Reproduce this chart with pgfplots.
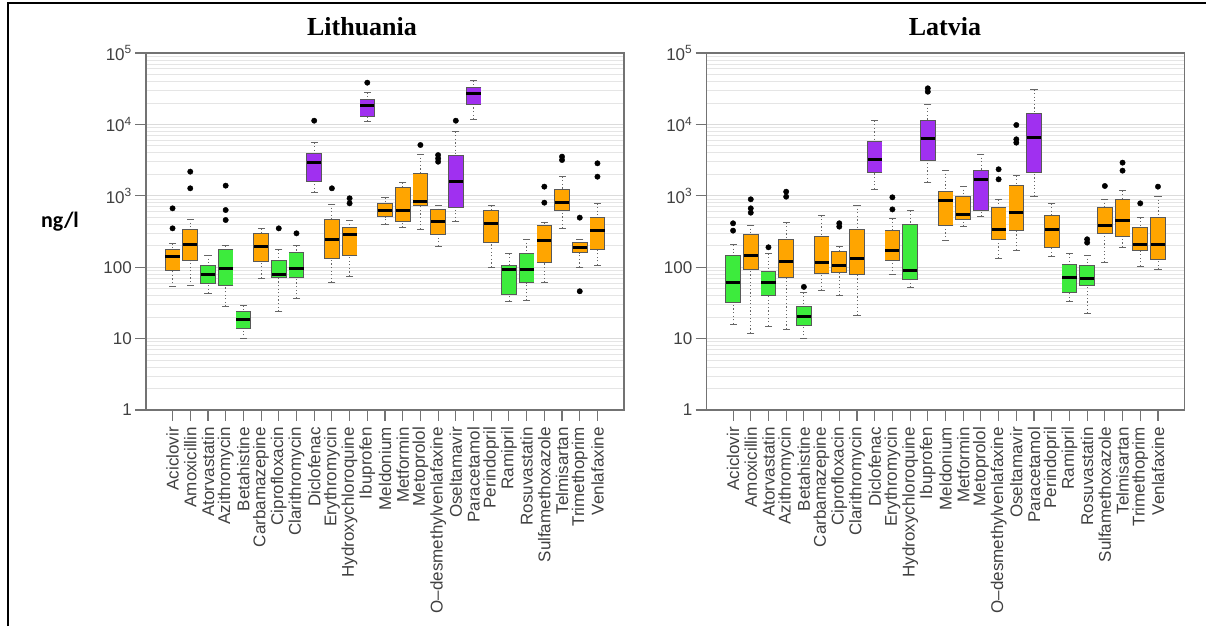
\documentclass[border=0pt]{standalone}
\usepackage{pgfplots}
\pgfplotsset{compat=1.18}
\usepackage{fontspec}
\setmainfont{Liberation Sans}
\newfontfamily\titlefont{Liberation Serif}
\newfontfamily\calibri{Carlito}
\definecolor{cO}{HTML}{FFA500}
\definecolor{cG}{HTML}{3DEB3D}
\definecolor{cP}{HTML}{A030F0}
% one box: position, colour, lower whisker, lower quartile, median, upper quartile, upper whisker
\newcommand{\bx}[7]{%
  \addplot[draw=black!60, line width=0.8pt, dash pattern=on 1.2pt off 2.4pt, mark=-, mark size=3.54pt, mark indices={1}, mark options={solid, line width=0.9pt, draw=black!60}] coordinates {(#1,#3) (#1,#4)};
  \addplot[draw=black!60, line width=0.8pt, dash pattern=on 1.2pt off 2.4pt, mark=-, mark size=3.54pt, mark indices={1}, mark options={solid, line width=0.9pt, draw=black!60}] coordinates {(#1,#7) (#1,#6)};
  \addplot[draw=black!65, line width=15.6pt, line cap=butt, mark=none] coordinates {(#1,#4) (#1,#6)};
  \addplot[draw=#2, line width=14pt, line cap=butt, mark=none] coordinates {(#1,#4) (#1,#6)};
  \addplot[only marks, mark=-, mark size=7.8pt, mark options={line width=0.8pt, draw=black!65}] coordinates {(#1,#4) (#1,#6)};
  \addplot[only marks, mark=-, mark size=7.08pt, mark options={line width=3pt, draw=black}] coordinates {(#1,#5)};
}
\begin{document}
\begin{tikzpicture}
\path[use as bounding box] (0,0) rectangle (1206pt,626pt);
\draw[line width=2pt, black] (8pt,0) -- (8pt,623pt) -- (1206pt,623pt);
\node at (362pt,599pt) {\titlefont\bfseries\fontsize{26}{30}\selectfont Lithuania};
\node at (945pt,599pt) {\titlefont\bfseries\fontsize{26}{30}\selectfont Latvia};
\node at (60pt,404pt) {\calibri\bfseries\fontsize{22}{26}\selectfont ng/l};

% ---------------- Lithuania ----------------
\begin{axis}[
    at={(146pt,216pt)}, anchor=south west,
    scale only axis, width=478pt, height=357pt,
    ymode=log, ymin=1, ymax=100000,
    xmin=-0.5, xmax=26.5,
    xtick={1,2,...,25},
    xticklabels={Aciclovir,Amoxicillin,Atorvastatin,Azithromycin,Betahistine,Carbamazepine,Ciprofloxacin,Clarithromycin,Diclofenac,Erythromycin,Hydroxychloroquine,Ibuprofen,Meldonium,Metformin,Metoprolol,O--desmethylvenlafaxine,Oseltamavir,Paracetamol,Perindopril,Ramipril,Rosuvastatin,Sulfamethoxazole,Telmisartan,Trimethoprim,Venlafaxine},
    ytick={1,10,100,1000,10000,100000},
    yticklabels={1,10,100,10\textsuperscript{3},10\textsuperscript{4},10\textsuperscript{5}},
    minor ytick={2,3,4,5,6,7,8,9,20,30,40,50,60,70,80,90,200,300,400,500,600,700,800,900,2000,3000,4000,5000,6000,7000,8000,9000,20000,30000,40000,50000,60000,70000,80000,90000},
    ymajorgrids, yminorgrids,
    major grid style={draw=black!14, line width=0.8pt},
    minor grid style={draw=black!10, line width=0.8pt},
    minor tick length=0pt,
    major tick length=11pt,
    tick align=outside,
    xtick pos=bottom, ytick pos=left,
    axis line style={draw=black!55, line width=1.3pt},
    tick style={draw=black!55, line width=1.1pt},
    ticklabel style={font=\fontsize{17}{19}\selectfont, text=black!75},
    xticklabel style={rotate=90, anchor=east, inner xsep=6pt, inner ysep=2pt},
    yticklabel style={inner sep=3pt},
]
\draw[black!55, line width=1.1pt] ([yshift=-3pt]axis cs:1,1) -- ([yshift=-3pt]axis cs:25,1);
\bx{1}{cO}{53}{91}{140}{178}{216}
\bx{2}{cO}{55}{124}{211}{339}{473}
\bx{3}{cG}{43}{59}{78}{107}{148}
\bx{4}{cG}{28}{56}{96}{180}{200}
\bx{5}{cG}{9.9}{13.8}{18.6}{24}{29}
\bx{6}{cO}{70}{120}{194}{298}{350}
\bx{7}{cG}{24}{71}{79}{124}{178}
\bx{8}{cG}{37}{72}{96}{162}{200}
\bx{9}{cP}{1107}{1611}{2912}{3936}{5550}
\bx{10}{cO}{61}{133}{248}{468}{768}
\bx{11}{cO}{75}{148}{283}{362}{458}
\bx{12}{cP}{10920}{12820}{18290}{22450}{28100}
\bx{13}{cO}{403}{511}{619}{784}{942}
\bx{14}{cO}{361}{444}{632}{1300}{1545}
\bx{15}{cO}{343}{727}{836}{2064}{3850}
\bx{16}{cO}{198}{289}{434}{653}{743}
\bx{17}{cP}{434}{689}{1611}{3725}{7910}
\bx{18}{cP}{11780}{19100}{26670}{33000}{40950}
\bx{19}{cO}{100}{223}{403}{619}{727}
\bx{20}{cG}{33.6}{42}{93}{105}{156}
\bx{21}{cG}{34}{61}{93}{156}{246}
\bx{22}{cO}{61}{117}{235}{382}{421}
\bx{23}{cO}{350}{632}{818}{1245}{1853}
\bx{24}{cO}{100}{160}{190}{223}{248}
\bx{25}{cO}{107}{178}{325}{494}{784}
% outliers
\addplot[only marks, mark=*, mark size=2.7pt, mark options={fill=black, draw=black}] coordinates {
(1,350) (1,667) (2,1273) (2,2178) (4,458) (4,632) (4,1387) (7,350) (8,298)
(9,11270) (10,1273) (11,784) (11,922) (12,38400) (15,5145)
(16,3000) (16,3330) (16,3720) (17,11270) (22,801) (22,1343)
(23,3170) (23,3535) (24,46) (24,494) (25,1853) (25,2850)};
\end{axis}

% ---------------- Latvia ----------------
\begin{axis}[
    at={(706.5pt,216pt)}, anchor=south west,
    scale only axis, width=478pt, height=357pt,
    ymode=log, ymin=1, ymax=100000,
    xmin=-0.5, xmax=26.5,
    xtick={1,2,...,25},
    xticklabels={Aciclovir,Amoxicillin,Atorvastatin,Azithromycin,Betahistine,Carbamazepine,Ciprofloxacin,Clarithromycin,Diclofenac,Erythromycin,Hydroxychloroquine,Ibuprofen,Meldonium,Metformin,Metoprolol,O--desmethylvenlafaxine,Oseltamavir,Paracetamol,Perindopril,Ramipril,Rosuvastatin,Sulfamethoxazole,Telmisartan,Trimethoprim,Venlafaxine},
    ytick={1,10,100,1000,10000,100000},
    yticklabels={1,10,100,10\textsuperscript{3},10\textsuperscript{4},10\textsuperscript{5}},
    minor ytick={2,3,4,5,6,7,8,9,20,30,40,50,60,70,80,90,200,300,400,500,600,700,800,900,2000,3000,4000,5000,6000,7000,8000,9000,20000,30000,40000,50000,60000,70000,80000,90000},
    ymajorgrids, yminorgrids,
    major grid style={draw=black!14, line width=0.8pt},
    minor grid style={draw=black!10, line width=0.8pt},
    minor tick length=0pt,
    major tick length=11pt,
    tick align=outside,
    xtick pos=bottom, ytick pos=left,
    axis line style={draw=black!55, line width=1.3pt},
    tick style={draw=black!55, line width=1.1pt},
    ticklabel style={font=\fontsize{17}{19}\selectfont, text=black!75},
    xticklabel style={rotate=90, anchor=east, inner xsep=6pt, inner ysep=2pt},
    yticklabel style={inner sep=3pt},
]
\draw[black!55, line width=1.1pt] ([yshift=-3pt]axis cs:1,1) -- ([yshift=-3pt]axis cs:25,1);
\bx{1}{cG}{16}{32}{61}{144}{205}
\bx{2}{cO}{11.9}{93}{145}{289}{390}
\bx{3}{cG}{15}{40}{61}{87}{156}
\bx{4}{cO}{13.5}{72}{120}{246}{421}
\bx{5}{cG}{9.9}{15.2}{20.7}{28.6}{44.5}
\bx{6}{cO}{47}{82}{116}{268}{527}
\bx{7}{cO}{40}{84}{107}{169}{194}
\bx{8}{cO}{21}{79}{133}{339}{743}
\bx{9}{cP}{1245}{2130}{3240}{5850}{11270}
\bx{10}{cO}{78}{124}{171}{325}{483}
\bx{11}{cG}{52}{68}{91}{398}{619}
\bx{12}{cP}{1545}{3170}{6250}{11270}{19300}
\bx{13}{cO}{235}{390}{846}{1168}{2297}
\bx{14}{cO}{370}{473}{550}{972}{1372}
\bx{15}{cP}{511}{632}{1665}{2297}{3850}
\bx{16}{cO}{133}{248}{339}{682}{893}
\bx{17}{cO}{174}{332}{587}{1387}{1914}
\bx{18}{cP}{972}{2110}{6590}{14290}{31000}
\bx{19}{cO}{141}{190}{339}{538}{784}
\bx{20}{cG}{33}{44.5}{72}{111}{156}
\bx{21}{cG}{22.6}{55}{70}{107}{148}
\bx{22}{cO}{116}{298}{382}{682}{902}
\bx{23}{cO}{190}{274}{449}{893}{1180}
\bx{24}{cO}{104}{171}{205}{362}{494}
\bx{25}{cO}{93}{130}{205}{494}{994}
% outliers
\addplot[only marks, mark=*, mark size=2.7pt, mark options={fill=black, draw=black}] coordinates {
(1,325) (1,412) (2,580) (2,667) (2,893) (3,190) (4,972) (4,1142) (5,53)
(7,370) (7,412) (10,645) (10,952) (12,28700) (12,32000)
(16,1700) (16,2350) (17,5550) (17,6180) (17,9800)
(21,221) (21,246) (22,1372) (23,2250) (23,2912) (24,784) (25,1343)};
\end{axis}
\end{tikzpicture}
\end{document}
